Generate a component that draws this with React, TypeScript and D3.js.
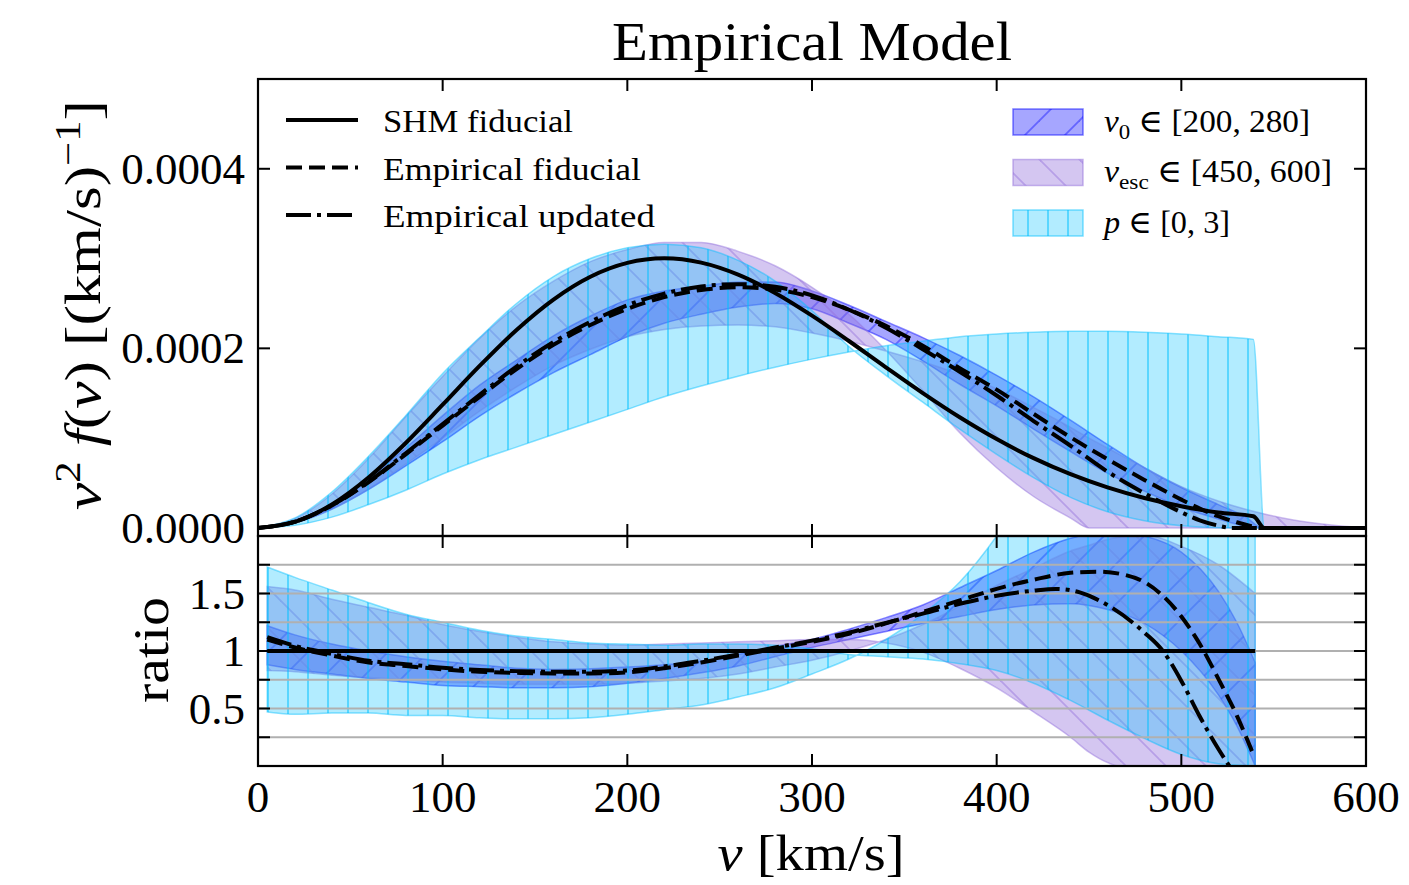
import React, { useEffect, useRef } from 'react';
import * as d3 from 'd3';

type Pt = [number, number];
type Row = [number, number, number];

// speed v in km/s, v^2 f(v) in units of 1e-4 (km/s)^-1
const shmTop: Pt[] = [
  [0, 0], [20, 0.067], [40, 0.261], [60, 0.564], [80, 0.946], [100, 1.372], [120, 1.804], [140, 2.205],
  [160, 2.544], [180, 2.798], [200, 2.952], [220, 3.003], [240, 2.955], [260, 2.821], [280, 2.617],
  [300, 2.364], [320, 2.082], [340, 1.789], [360, 1.502], [380, 1.233], [400, 0.99], [420, 0.777],
  [440, 0.598], [460, 0.451], [480, 0.333], [500, 0.241], [520, 0.171], [539, 0.13], [545, 0], [600, 0],
];
const fiducialTop: Pt[] = [
  [0, 0], [20, 0.069], [40, 0.25], [60, 0.51], [80, 0.82], [100, 1.14], [120, 1.46], [140, 1.77],
  [160, 2.04], [180, 2.26], [200, 2.44], [220, 2.57], [240, 2.65], [260, 2.68], [280, 2.655],
  [300, 2.57], [320, 2.43], [340, 2.25], [360, 2.03], [380, 1.78], [400, 1.54], [420, 1.27],
  [440, 1.01], [460, 0.765], [480, 0.535], [500, 0.315], [510, 0.215], [520, 0.13], [530, 0.063],
  [538, 0.018], [542, 0], [600, 0],
];
const updatedTop: Pt[] = [
  [0, 0], [20, 0.07], [40, 0.253], [60, 0.517], [80, 0.832], [100, 1.157], [120, 1.482], [140, 1.797],
  [160, 2.07], [180, 2.295], [200, 2.48], [220, 2.61], [240, 2.69], [260, 2.715], [280, 2.685],
  [300, 2.59], [320, 2.43], [340, 2.23], [360, 1.99], [380, 1.74], [400, 1.475], [420, 1.19],
  [440, 0.915], [460, 0.627], [480, 0.386], [500, 0.174], [510, 0.085], [520, 0.026], [527, 0], [600, 0],
];

// bands: [v, edge a, edge b]
const v0BandTop: Row[] = [
  [0, 0, 0], [20, 0.059, 0.082], [40, 0.211, 0.266], [60, 0.43, 0.553], [80, 0.69, 0.89], [100, 0.96, 1.25],
  [120, 1.245, 1.59], [140, 1.5, 1.87], [160, 1.73, 2.14], [180, 1.93, 2.36], [200, 2.13, 2.54],
  [220, 2.28, 2.64], [240, 2.38, 2.69], [260, 2.46, 2.74], [280, 2.5, 2.74], [300, 2.44, 2.64],
  [320, 2.28, 2.48], [340, 2.1, 2.3], [360, 1.86, 2.12], [380, 1.6, 1.92], [400, 1.36, 1.7],
  [420, 1.1, 1.46], [440, 0.85, 1.2], [460, 0.61, 0.93], [480, 0.41, 0.67], [500, 0.23, 0.45],
  [520, 0.1, 0.26], [535, 0.02, 0.12], [544, 0, 0], [600, 0, 0],
];
const vescBandTop: Row[] = [
  [0, 0, 0], [20, 0.103, 0.055], [40, 0.378, 0.206], [60, 0.778, 0.434], [80, 1.239, 0.71], [100, 1.688, 1.0],
  [120, 2.111, 1.3], [140, 2.47, 1.57], [160, 2.748, 1.81], [180, 2.966, 1.99], [200, 3.1, 2.13],
  [220, 3.18, 2.21], [240, 3.18, 2.25], [260, 3.08, 2.26], [280, 2.92, 2.24], [300, 2.68, 2.17],
  [320, 2.38, 2.08], [340, 1.98, 1.97], [360, 1.53, 1.85], [380, 1.06, 1.71], [400, 0.67, 1.55],
  [420, 0.35, 1.34], [440, 0.11, 1.12], [450, 0, 1.0], [460, 0, 0.89], [480, 0, 0.67], [500, 0, 0.46],
  [520, 0, 0.3], [540, 0, 0.18], [560, 0, 0.09], [580, 0, 0.035], [600, 0, 0],
];
const pBandTop: Row[] = [
  [0, 0, 0], [20, 0.03, 0.11], [40, 0.12, 0.4], [60, 0.26, 0.8], [80, 0.42, 1.25], [100, 0.6, 1.72],
  [120, 0.76, 2.12], [140, 0.9, 2.5], [160, 1.04, 2.8], [180, 1.18, 3.0], [200, 1.32, 3.12],
  [220, 1.46, 3.16], [240, 1.58, 3.12], [260, 1.69, 2.98], [280, 1.79, 2.75], [300, 1.88, 2.42],
  [320, 1.96, 2.02], [340, 2.03, 1.7], [360, 2.08, 1.4], [380, 2.13, 1.1], [400, 2.16, 0.82],
  [420, 2.18, 0.56], [440, 2.19, 0.34], [460, 2.19, 0.18], [480, 2.18, 0.08], [500, 2.16, 0.025],
  [520, 2.13, 0.003], [539, 2.1, 0], [545, 0, 0], [600, 0, 0],
];

// ratio to SHM fiducial
const shmRatio: Pt[] = [[5, 1], [540, 1]];
const fiducialRatio: Pt[] = [
  [5, 1.1], [20, 1.03], [40, 0.96], [60, 0.9], [80, 0.87], [100, 0.84], [120, 0.82], [140, 0.81],
  [160, 0.805], [180, 0.805], [200, 0.815], [220, 0.85], [240, 0.9], [260, 0.96], [280, 1.02],
  [300, 1.08], [320, 1.15], [340, 1.24], [360, 1.34], [380, 1.44], [400, 1.54], [420, 1.62],
  [440, 1.68], [455, 1.69], [470, 1.66], [480, 1.6], [490, 1.48], [500, 1.3], [510, 1.06], [520, 0.76],
  [530, 0.44], [539, 0.1],
];
const updatedRatio: Pt[] = [
  [5, 1.12], [20, 1.045], [40, 0.975], [60, 0.915], [80, 0.885], [100, 0.855], [120, 0.835], [140, 0.825],
  [160, 0.82], [180, 0.82], [200, 0.83], [220, 0.865], [240, 0.915], [260, 0.97], [280, 1.03],
  [300, 1.09], [320, 1.16], [340, 1.245], [360, 1.325], [380, 1.41], [400, 1.48], [420, 1.525],
  [432, 1.54], [445, 1.51], [460, 1.4], [480, 1.16], [490, 1.0], [500, 0.74], [510, 0.43], [520, 0.15],
  [526, 0],
];
const v0BandRatio: Row[] = [
  [5, 0.88, 1.22], [20, 0.84, 1.14], [40, 0.8, 1.06], [60, 0.76, 1.0], [80, 0.73, 0.95], [100, 0.7, 0.91],
  [120, 0.69, 0.88], [140, 0.68, 0.85], [160, 0.68, 0.84], [180, 0.69, 0.845], [200, 0.72, 0.86],
  [220, 0.76, 0.88], [240, 0.81, 0.91], [260, 0.87, 0.97], [280, 0.95, 1.04], [300, 1.03, 1.1],
  [320, 1.1, 1.19], [340, 1.17, 1.29], [360, 1.24, 1.4], [380, 1.3, 1.55], [400, 1.36, 1.7],
  [420, 1.4, 1.86], [440, 1.41, 1.98], [460, 1.36, 2.04], [480, 1.24, 2.0], [500, 1.0, 1.86],
  [520, 0.62, 1.52], [530, 0.35, 1.25], [540, 0, 0.9],
];
const vescBandRatio: Row[] = [
  [5, 1.56, 0.83], [20, 1.53, 0.82], [40, 1.45, 0.79], [60, 1.38, 0.77], [80, 1.31, 0.75], [100, 1.23, 0.73],
  [120, 1.17, 0.72], [140, 1.12, 0.71], [160, 1.08, 0.71], [180, 1.06, 0.71], [200, 1.05, 0.72],
  [220, 1.06, 0.74], [240, 1.07, 0.76], [260, 1.08, 0.8], [280, 1.09, 0.86], [300, 1.1, 0.92],
  [320, 1.1, 1.0], [340, 1.07, 1.1], [360, 0.99, 1.23], [380, 0.85, 1.39], [400, 0.68, 1.57],
  [420, 0.47, 1.72], [440, 0.25, 1.87], [450, 0.12, 1.92], [460, 0.03, 1.97], [466, 0, 1.99],
  [480, 0, 2.01], [500, 0, 1.91], [520, 0, 1.75], [540, 0, 1.5],
];
const pBandRatio: Row[] = [
  [5, 0.47, 1.73], [20, 0.45, 1.64], [40, 0.46, 1.53], [60, 0.46, 1.42], [80, 0.44, 1.32], [100, 0.44, 1.25],
  [120, 0.42, 1.18], [140, 0.41, 1.13], [160, 0.41, 1.1], [180, 0.42, 1.07], [200, 0.45, 1.06],
  [220, 0.49, 1.05], [240, 0.53, 1.06], [260, 0.6, 1.06], [280, 0.68, 1.05], [300, 0.8, 1.02],
  [320, 0.93, 0.97], [340, 1.1, 0.95], [360, 1.32, 0.93], [380, 1.6, 0.89], [400, 2.0, 0.83],
  [420, 2.5, 0.72], [440, 3.3, 0.57], [460, 4.5, 0.4], [480, 6.2, 0.24], [500, 8.8, 0.1], [520, 12, 0.02],
  [540, 17, 0],
];

const xTicks = [0, 100, 200, 300, 400, 500, 600];
const topTicks = [0, 2, 4];
const topTickLabels = ['0.0000', '0.0002', '0.0004'];
const ratioTicks = [0.25, 0.5, 0.75, 1, 1.25, 1.5, 1.75];
const ratioTickLabels: [number, string][] = [[0.5, '0.5'], [1, '1'], [1.5, '1.5']];

const FONT = "'Liberation Serif', 'DejaVu Serif', serif";

type Part = { t: string; italic?: boolean; size?: number; dy?: number };

const bands = [
  { id: 'v0', color: '#0000ff', alpha: 0.35, hatchAlpha: 0.4, hatch: 'ne', top: v0BandTop, ratio: v0BandRatio,
    label: [{ t: 'v', italic: true }, { t: '0', size: 22, dy: 7 }, { t: ' ∈ [200, 280]', dy: -7 }] as Part[], len: 206 },
  { id: 'vesc', color: '#9370db', alpha: 0.4, hatchAlpha: 0.45, hatch: 'nw', top: vescBandTop, ratio: vescBandRatio,
    label: [{ t: 'v', italic: true }, { t: 'esc', size: 22, dy: 7 }, { t: ' ∈ [450, 600]', dy: -7 }] as Part[], len: 228 },
  { id: 'p', color: '#00bfff', alpha: 0.3, hatchAlpha: 0.5, hatch: 'v', top: pBandTop, ratio: pBandRatio,
    label: [{ t: 'p', italic: true }, { t: ' ∈ [0, 3]' }] as Part[], len: 126 },
];

const curves = [
  { name: 'SHM fiducial', dash: null, top: shmTop, ratio: shmRatio, len: 190 },
  { name: 'Empirical fiducial', dash: '16,7', top: fiducialTop, ratio: fiducialRatio, len: 258 },
  { name: 'Empirical updated', dash: '25,6,4,6', top: updatedTop, ratio: updatedRatio, len: 272 },
];

function addText(parent: any, x: number, y: number, parts: Part[], size: number, anchor: string, len?: number, rotate?: boolean) {
  const t = parent.append('text')
    .attr('font-family', FONT)
    .attr('font-size', size)
    .attr('text-anchor', anchor)
    .attr('fill', '#000');
  if (rotate) t.attr('transform', `translate(${x},${y}) rotate(-90)`);
  else t.attr('x', x).attr('y', y);
  if (len) t.attr('textLength', len).attr('lengthAdjust', 'spacingAndGlyphs');
  parts.forEach(p => {
    const s = t.append('tspan').text(p.t);
    if (p.italic) s.attr('font-style', 'italic');
    if (p.size) s.attr('font-size', p.size);
    if (p.dy) s.attr('dy', p.dy);
  });
  return t;
}

function drawChart(el: SVGSVGElement) {
  const svg = d3.select(el);
  svg.selectAll('*').remove();

  const left = 258, right = 1366, top = 79, mid = 536, bottom = 766;
  const x = d3.scaleLinear().domain([0, 600]).range([left, right]);
  const yTop = d3.scaleLinear().domain([-0.09, 5]).range([mid, top]);
  const yRat = d3.scaleLinear().domain([0, 2]).range([bottom, mid]);

  const defs = svg.append('defs');
  defs.append('clipPath').attr('id', 'clip-top').append('rect')
    .attr('x', left).attr('y', top).attr('width', right - left).attr('height', mid - top);
  defs.append('clipPath').attr('id', 'clip-ratio').append('rect')
    .attr('x', left).attr('y', mid).attr('width', right - left).attr('height', bottom - mid);

  // hatch patterns, same pixel grid everywhere
  bands.forEach(b => {
    if (b.hatch === 'v') {
      const p = defs.append('pattern').attr('id', `hatch-${b.id}`).attr('patternUnits', 'userSpaceOnUse')
        .attr('x', -2).attr('y', 0).attr('width', 20).attr('height', 20);
      p.append('line').attr('x1', 10).attr('x2', 10).attr('y1', 0).attr('y2', 20)
        .attr('stroke', b.color).attr('stroke-opacity', b.hatchAlpha).attr('stroke-width', 2);
    } else {
      const p = defs.append('pattern').attr('id', `hatch-${b.id}`).attr('patternUnits', 'userSpaceOnUse')
        .attr('x', 0).attr('y', 0).attr('width', 40).attr('height', 40);
      const segs = b.hatch === 'ne'
        ? [[-4, 4, 4, -4], [0, 40, 40, 0], [36, 44, 44, 36]]
        : [[-4, 36, 4, 44], [0, 0, 40, 40], [36, -4, 44, 4]];
      segs.forEach(s => p.append('line').attr('x1', s[0]).attr('y1', s[1]).attr('x2', s[2]).attr('y2', s[3])
        .attr('stroke', b.color).attr('stroke-opacity', b.hatchAlpha).attr('stroke-width', 1.8));
    }
  });

  svg.append('rect').attr('width', 1409).attr('height', 885).attr('fill', '#fff');

  const panels = [
    { key: 'top', y: yTop, clip: 'clip-top' },
    { key: 'ratio', y: yRat, clip: 'clip-ratio' },
  ];

  panels.forEach(panel => {
    const g = svg.append('g').attr('clip-path', `url(#${panel.clip})`);
    const area = d3.area<Row>()
      .x(d => x(d[0]))
      .y0(d => panel.y(d[1]))
      .y1(d => panel.y(d[2]))
      .curve(d3.curveMonotoneX);
    bands.forEach(b => {
      const data = panel.key === 'top' ? b.top : b.ratio;
      g.append('path').attr('d', area(data))
        .attr('fill', b.color).attr('fill-opacity', b.alpha)
        .attr('stroke', b.color).attr('stroke-opacity', 0.45).attr('stroke-width', 1.5);
      g.append('path').attr('d', area(data)).attr('fill', `url(#hatch-${b.id})`);
    });

    if (panel.key === 'ratio') {
      g.selectAll('.grid').data(ratioTicks).enter().append('line')
        .attr('x1', left).attr('x2', right)
        .attr('y1', d => yRat(d)).attr('y2', d => yRat(d))
        .attr('stroke', '#b0b0b0').attr('stroke-width', 2);
    }

    const line = d3.line<Pt>().x(d => x(d[0])).y(d => panel.y(d[1])).curve(d3.curveMonotoneX);
    curves.forEach(c => {
      const p = g.append('path').attr('d', line(panel.key === 'top' ? c.top : c.ratio))
        .attr('fill', 'none').attr('stroke', '#000').attr('stroke-width', 4);
      if (c.dash) p.attr('stroke-dasharray', c.dash);
    });
  });

  // frames and inward ticks
  const ax = svg.append('g').attr('stroke', '#000');
  [[top, mid], [mid, bottom]].forEach(([y0, y1]) => {
    ax.append('rect').attr('x', left).attr('y', y0).attr('width', right - left).attr('height', y1 - y0)
      .attr('fill', 'none').attr('stroke-width', 2.2);
    xTicks.forEach(t => {
      ax.append('line').attr('x1', x(t)).attr('x2', x(t)).attr('y1', y0).attr('y2', y0 + 12).attr('stroke-width', 2);
      ax.append('line').attr('x1', x(t)).attr('x2', x(t)).attr('y1', y1).attr('y2', y1 - 12).attr('stroke-width', 2);
    });
  });
  const yTickSets: [number, (v: number) => number][] = [
    ...topTicks.map(t => [t, yTop] as [number, (v: number) => number]),
    ...ratioTicks.map(t => [t, yRat] as [number, (v: number) => number]),
  ];
  yTickSets.forEach(([t, s]) => {
    ax.append('line').attr('x1', left).attr('x2', left + 12).attr('y1', s(t)).attr('y2', s(t)).attr('stroke-width', 2);
    ax.append('line').attr('x1', right).attr('x2', right - 12).attr('y1', s(t)).attr('y2', s(t)).attr('stroke-width', 2);
  });

  // tick labels
  const labels = svg.append('g');
  xTicks.forEach(t => addText(labels, x(t), 812, [{ t: String(t) }], 45, 'middle'));
  topTicks.forEach((t, i) => addText(labels, 245, yTop(t) + 15, [{ t: topTickLabels[i] }], 45, 'end'));
  ratioTickLabels.forEach(([t, s]) => addText(labels, 245, yRat(t) + 15, [{ t: s }], 45, 'end'));

  // axis labels and title
  addText(labels, 812, 60, [{ t: 'Empirical Model' }], 55, 'middle', 400);
  addText(labels, 811, 870, [{ t: 'v', italic: true }, { t: ' [km/s]' }], 50, 'middle', 187);
  addText(labels, 168, 650, [{ t: 'ratio' }], 50, 'middle', 106, true);
  addText(labels, 100, 305, [
    { t: 'v', italic: true }, { t: '2', size: 35, dy: -20 }, { t: ' f', italic: true, dy: 20 },
    { t: '(' }, { t: 'v', italic: true }, { t: ')  [(km/s)' }, { t: '−1', size: 35, dy: -20 }, { t: ']', dy: 20 },
  ], 50, 'middle', 410, true);

  // legend: curves
  const lg = svg.append('g');
  curves.forEach((c, i) => {
    const y = 120 + i * 47.5;
    const l = lg.append('line').attr('x1', 286).attr('x2', 358).attr('y1', y).attr('y2', y)
      .attr('stroke', '#000').attr('stroke-width', 4);
    if (c.dash) l.attr('stroke-dasharray', c.dash);
    addText(lg, 383, y + 12, [{ t: c.name }], 31, 'start', c.len);
  });

  // legend: bands
  const swY = [109, 159.5, 210];
  const txY = [132, 182, 233];
  bands.forEach((b, i) => {
    lg.append('rect').attr('x', 1013).attr('y', swY[i]).attr('width', 70).attr('height', 26)
      .attr('fill', b.color).attr('fill-opacity', b.alpha)
      .attr('stroke', b.color).attr('stroke-opacity', 0.5).attr('stroke-width', 1.5);
    lg.append('rect').attr('x', 1013).attr('y', swY[i]).attr('width', 70).attr('height', 26)
      .attr('fill', `url(#hatch-${b.id})`);
    addText(lg, 1104, txY[i], b.label, 32, 'start', b.len);
  });
}

export default function App() {
  const ref = useRef<SVGSVGElement>(null);
  useEffect(() => {
    if (ref.current) drawChart(ref.current);
  }, []);
  return (
    <svg ref={ref} width={1409} height={885} style={{ position: 'absolute', left: 0, top: 0 }} />
  );
}
